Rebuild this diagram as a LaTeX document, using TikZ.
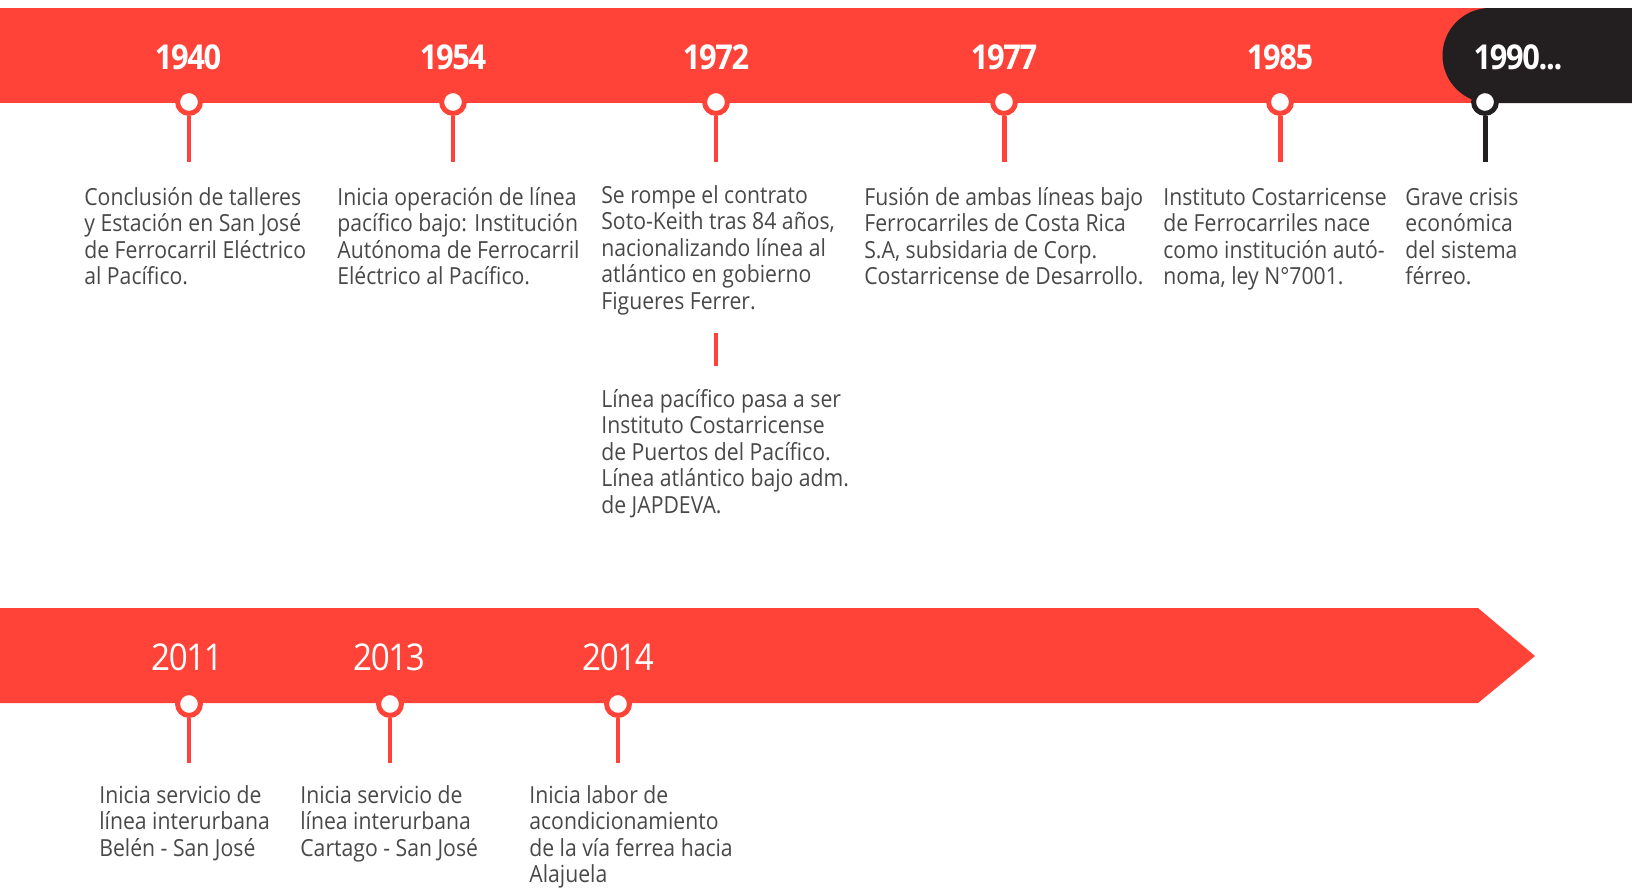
\documentclass[tikz,border=0pt]{standalone}
\usepackage{fontspec}
\setmainfont{Open Sans}[FakeStretch=0.9]
\newfontfamily\yearfont{Open Sans}[FakeStretch=0.9,LetterSpace=-4]
\usetikzlibrary{positioning}

\definecolor{tlred}{HTML}{FF4338}
\definecolor{tlblack}{HTML}{231F20}
\definecolor{tltext}{HTML}{484848}

\newcommand{\notebox}[1]{\parbox[t]{8cm}{\raggedright #1}}

\begin{document}
\begin{tikzpicture}[
    x=0.02cm,y=-0.02cm,
    yearbold/.style={text=white,inner sep=0,
        font=\yearfont\bfseries\fontsize{19.5}{20}\selectfont},
    yearlight/.style={text=white,inner sep=0,
        font=\yearfont\fontsize{21}{22}\selectfont},
    note/.style={anchor=base west,inner sep=0,text=tltext,
        font=\fontsize{13.4}{15.1}\selectfont},
    pindot/.style={circle,draw=#1,fill=white,line width=2.83pt,
        minimum size=13pt,inner sep=0},
    pindot/.default=tlred,
    stem/.style={draw=#1,line width=2.83pt},
    stem/.default=tlred
]
    \useasboundingbox (0,0) rectangle (1632,889);

    % bands
    \fill[tlred] (0,8) rectangle (1632,103);
    \fill[tlblack] (1632,8) -- (1490,8)
        arc[start angle=270,end angle=90,radius=47.5]
        -- (1632,103) -- cycle;
    \fill[tlred] (0,608) -- (1478,608) -- (1535,656)
        -- (1478,703) -- (0,703) -- cycle;

    % years
    \node[yearbold] (y1940) at (188,57) {1940};
    \node[yearbold] (y1954) at (453,57) {1954};
    \node[yearbold] (y1972) at (716,57) {1972};
    \node[yearbold] (y1977) at (1004,57) {1977};
    \node[yearbold] (y1985) at (1280,57) {1985};
    \node[yearbold] (y1990) at (1518,57) {1990...};
    \node[yearlight] (y2011) at (187,657) {2011};
    \node[yearlight] (y2013) at (389,657) {2013};
    \node[yearlight] (y2014) at (618,657) {2014};

    % pins
    \node[pindot] (p1940) at (189,102) {};
    \node[pindot] (p1954) at (453,102) {};
    \node[pindot] (p1972) at (716,102) {};
    \node[pindot] (p1977) at (1004,102) {};
    \node[pindot] (p1985) at (1280,102) {};
    \node[pindot=tlblack] (p1990) at (1485,102) {};
    \node[pindot] (p2011) at (189,704) {};
    \node[pindot] (p2013) at (390,704) {};
    \node[pindot] (p2014) at (618,704) {};

    \coordinate (s1940) at (189,162);
    \coordinate (s1954) at (453,162);
    \coordinate (s1972) at (716,162);
    \coordinate (s1977) at (1004,162);
    \coordinate (s1985) at (1280,162);
    \coordinate (s1990) at (1485,162);
    \coordinate (s2011) at (189,763);
    \coordinate (s2013) at (390,763);
    \coordinate (s2014) at (618,763);

    \draw[stem] (p1940.south) -- (s1940);
    \draw[stem] (p1954.south) -- (s1954);
    \draw[stem] (p1972.south) -- (s1972);
    \draw[stem] (p1977.south) -- (s1977);
    \draw[stem] (p1985.south) -- (s1985);
    \draw[stem=tlblack] (p1990.south) -- (s1990);
    \draw[stem] (p2011.south) -- (s2011);
    \draw[stem] (p2013.south) -- (s2013);
    \draw[stem] (p2014.south) -- (s2014);

    % notes
    \node[note] (n1940) at (84,205) {\notebox{Conclusión de talleres\\
        y Estación en San José\\de Ferrocarril Eléctrico\\al Pacífico.}};
    \node[note] (n1954) at (337,205) {\notebox{Inicia operación de línea\\
        pacífico bajo: Institución\\Autónoma de Ferrocarril\\
        Eléctrico al Pacífico.}};
    \node[note] (n1972) at (601,203) {\notebox{Se rompe el contrato\\
        Soto-Keith tras 84 años,\\nacionalizando línea al\\
        atlántico en gobierno\\Figueres Ferrer.}};
    \node[note] (n1972b) at (601,407) {\notebox{Línea pacífico pasa a ser\\
        Instituto Costarricense\\de Puertos del Pacífico.\\
        Línea atlántico bajo adm.\\de JAPDEVA.}};
    \node[note] (n1977) at (864,205) {\notebox{Fusión de ambas líneas bajo\\
        Ferrocarriles de Costa Rica\\S.A, subsidaria de Corp.\\
        Costarricense de Desarrollo.}};
    \node[note] (n1985) at (1163,205) {\notebox{Instituto Costarricense\\
        de Ferrocarriles nace\\como institución autó-\\
        noma, ley N°7001.}};
    \node[note] (n1990) at (1405,205) {\notebox{Grave crisis\\económica\\
        del sistema\\férreo.}};
    \node[note] (n2011) at (99,803) {\notebox{Inicia servicio de\\
        línea interurbana\\Belén - San José}};
    \node[note] (n2013) at (300,803) {\notebox{Inicia servicio de\\
        línea interurbana\\Cartago - San José}};
    \node[note] (n2014) at (529,803) {\notebox{Inicia labor de\\
        acondicionamiento\\de la vía ferrea hacia\\Alajuela}};

    % link between the two 1972 notes
    \coordinate (l1972a) at (716,333);
    \coordinate (l1972b) at (716,366);
    \draw[stem] (l1972a) -- (l1972b);
\end{tikzpicture}
\end{document}
